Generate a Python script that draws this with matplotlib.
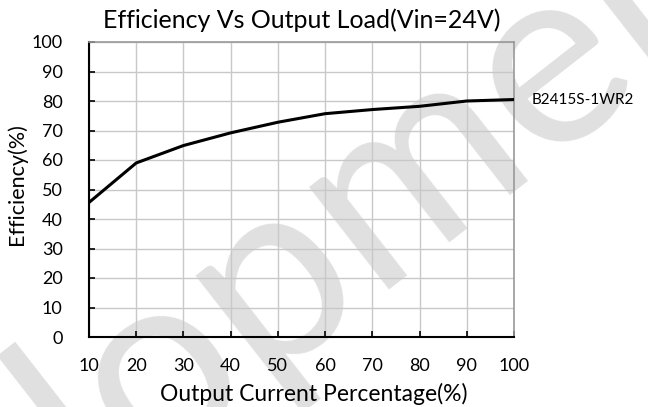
import matplotlib
matplotlib.use("Agg")
import matplotlib.pyplot as plt

load_pct = [10, 20, 30, 40, 50, 60, 70, 80, 90, 100]
efficiency = [45.6, 59.0, 64.9, 69.2, 72.8, 75.7, 77.1, 78.2, 80.0, 80.5]
series_name = "B2415S-1WR2"
x_ticks = [10, 20, 30, 40, 50, 60, 70, 80, 90, 100]
y_ticks = [0, 10, 20, 30, 40, 50, 60, 70, 80, 90, 100]
watermark = "Development"

plt.rcParams['font.family'] = ['Lato', 'DejaVu Sans']

fig = plt.figure(figsize=(6.48, 4.07), dpi=100)
ax = fig.add_axes([89/648, 1-337/407, (514-89)/648, (337-42)/407])
ax.patch.set_alpha(0)

# faint background watermark
fig.text(0.28, 0.16, watermark, rotation=38, rotation_mode='anchor', fontsize=185,
         color='#e0e0e0', ha='center', va='center', zorder=-5)

ax.plot(load_pct, efficiency, color='black', lw=2.2, zorder=3, solid_joinstyle='round')
ax.set_xlim(10, 100)
ax.set_ylim(0, 100)
ax.set_xticks(x_ticks)
ax.set_yticks(y_ticks)
ax.grid(True, color='#c8c8c8', lw=1)
ax.tick_params(direction='in', length=4, width=1.2, labelsize=13)
ax.tick_params(axis='x', pad=15)
ax.tick_params(axis='y', pad=19)
for s in ['left', 'bottom']:
    ax.spines[s].set_color('black')
    ax.spines[s].set_linewidth(1.5)
for s in ['top', 'right']:
    ax.spines[s].set_color('#999999')
    ax.spines[s].set_linewidth(1.2)

ax.set_title("Efficiency Vs Output Load(Vin=24V)", fontsize=18, pad=10)
ax.set_xlabel("Output Current Percentage(%)", fontsize=16.5, labelpad=2)
ax.xaxis.set_label_coords(0.53, -0.155)
ax.set_ylabel("Efficiency(%)", fontsize=15.5)
ax.yaxis.set_label_coords(-0.145, 0.52)
ax.annotate(series_name, xy=(1, efficiency[-1]), xycoords=('axes fraction', 'data'),
            xytext=(13, 0), textcoords='offset points', va='center', ha='left',
            fontsize=11, annotation_clip=False)

fig.savefig("out.png", dpi=100)
